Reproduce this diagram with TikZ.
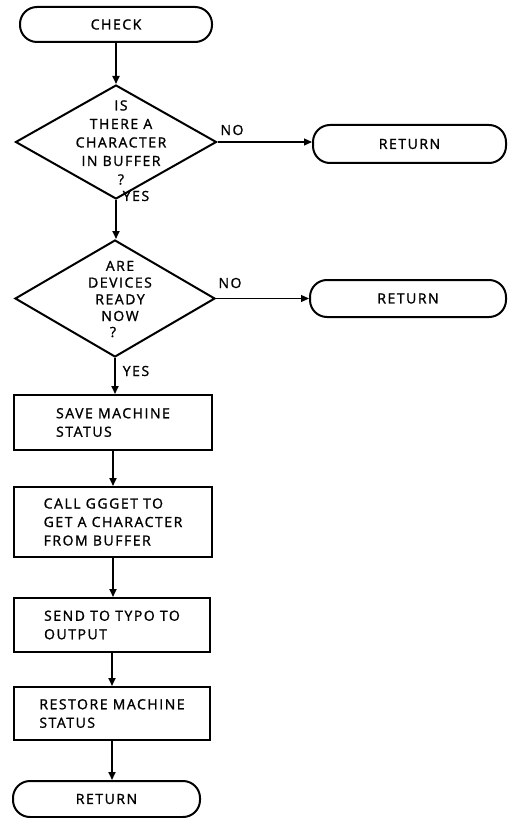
\documentclass[tikz,border=0pt]{standalone}
\usepackage{fontspec}
\setmainfont{Open Sans}[LetterSpace=11,FakeBold=1.3]
\usetikzlibrary{shapes.geometric,arrows.meta}
\begin{document}
\begin{tikzpicture}[x=1pt,y=-1pt,
  font=\fontsize{14}{18.5}\selectfont,
  term/.style={draw, line width=2pt, rounded corners=17pt, inner sep=0pt},
  proc/.style={draw, line width=2pt, inner sep=0pt, align=left},
  dia/.style={draw, diamond, line width=2pt, inner sep=0pt},
  dtext/.style={align=center, inner sep=0pt},
  flow/.style={line width=1.8pt, -{Triangle[length=8pt,width=7pt]}},
  side/.style={line width=1.1pt, -{Triangle[length=8pt,width=7pt]}},
  lbl/.style={inner sep=0pt}]
\useasboundingbox (0,0) rectangle (507,818);

\node[term, minimum width=192pt, minimum height=35pt] (check) at (116,24.5) {CHECK};

\node[dia, minimum width=201pt, minimum height=114pt] (d1) at (116,142) {};
\node[dtext] (t1) at (121,142.5) {IS\\THERE A\\CHARACTER\\IN BUFFER\\?};
\node[term, minimum width=193pt, minimum height=38pt] (r1) at (409.5,144) {RETURN};

\node[dia, minimum width=200pt, minimum height=117pt] (d2) at (115,298.5) {};
\node[dtext, font=\fontsize{14}{16.7}\selectfont] (t2) at (120,291) {ARE\\DEVICES\\READY\\NOW};
\node[lbl] (q2) at (113,332) {?};
\node[term, minimum width=196pt, minimum height=37pt] (r2) at (408,298.5) {RETURN};

\node[proc, minimum width=198pt, minimum height=55pt] (b1) at (113,422.5) {SAVE MACHINE\\STATUS};
\node[proc, minimum width=198pt, minimum height=70pt] (b2) at (113,522) {CALL GGGET TO\\GET A CHARACTER\\FROM BUFFER};
\node[proc, minimum width=196pt, minimum height=54pt] (b3) at (112,625) {SEND TO TYPO TO\\OUTPUT};
\node[proc, minimum width=196pt, minimum height=53pt] (b4) at (112,713.5) {RESTORE MACHINE\\STATUS};
\node[term, minimum width=187pt, minimum height=36pt] (r3) at (106.5,799) {RETURN};

\draw[flow] (check.south) -- (check.south |- d1.north);
\draw[side] (d1.east) -- (d1.east -| r1.west);
\draw[flow] (d1.south) -- (d1.south |- d2.north);
\draw[side] (d2.east) -- (d2.east -| r2.west);
\draw[flow] (d2.south) -- (d2.south |- b1.north);
\draw[flow] (b1.south) -- (b1.south |- b2.north);
\draw[flow] (b2.south) -- (b2.south |- b3.north);
\draw[flow] (b3.south) -- (b3.south |- b4.north);
\draw[flow] (b4.south) -- (b4.south |- r3.north);

\node[lbl] (no1) at (232,130) {NO};
\node[lbl] (yes1) at (136,196) {YES};
\node[lbl] (no2) at (230,283) {NO};
\node[lbl] (yes2) at (136,371) {YES};
\end{tikzpicture}
\end{document}
